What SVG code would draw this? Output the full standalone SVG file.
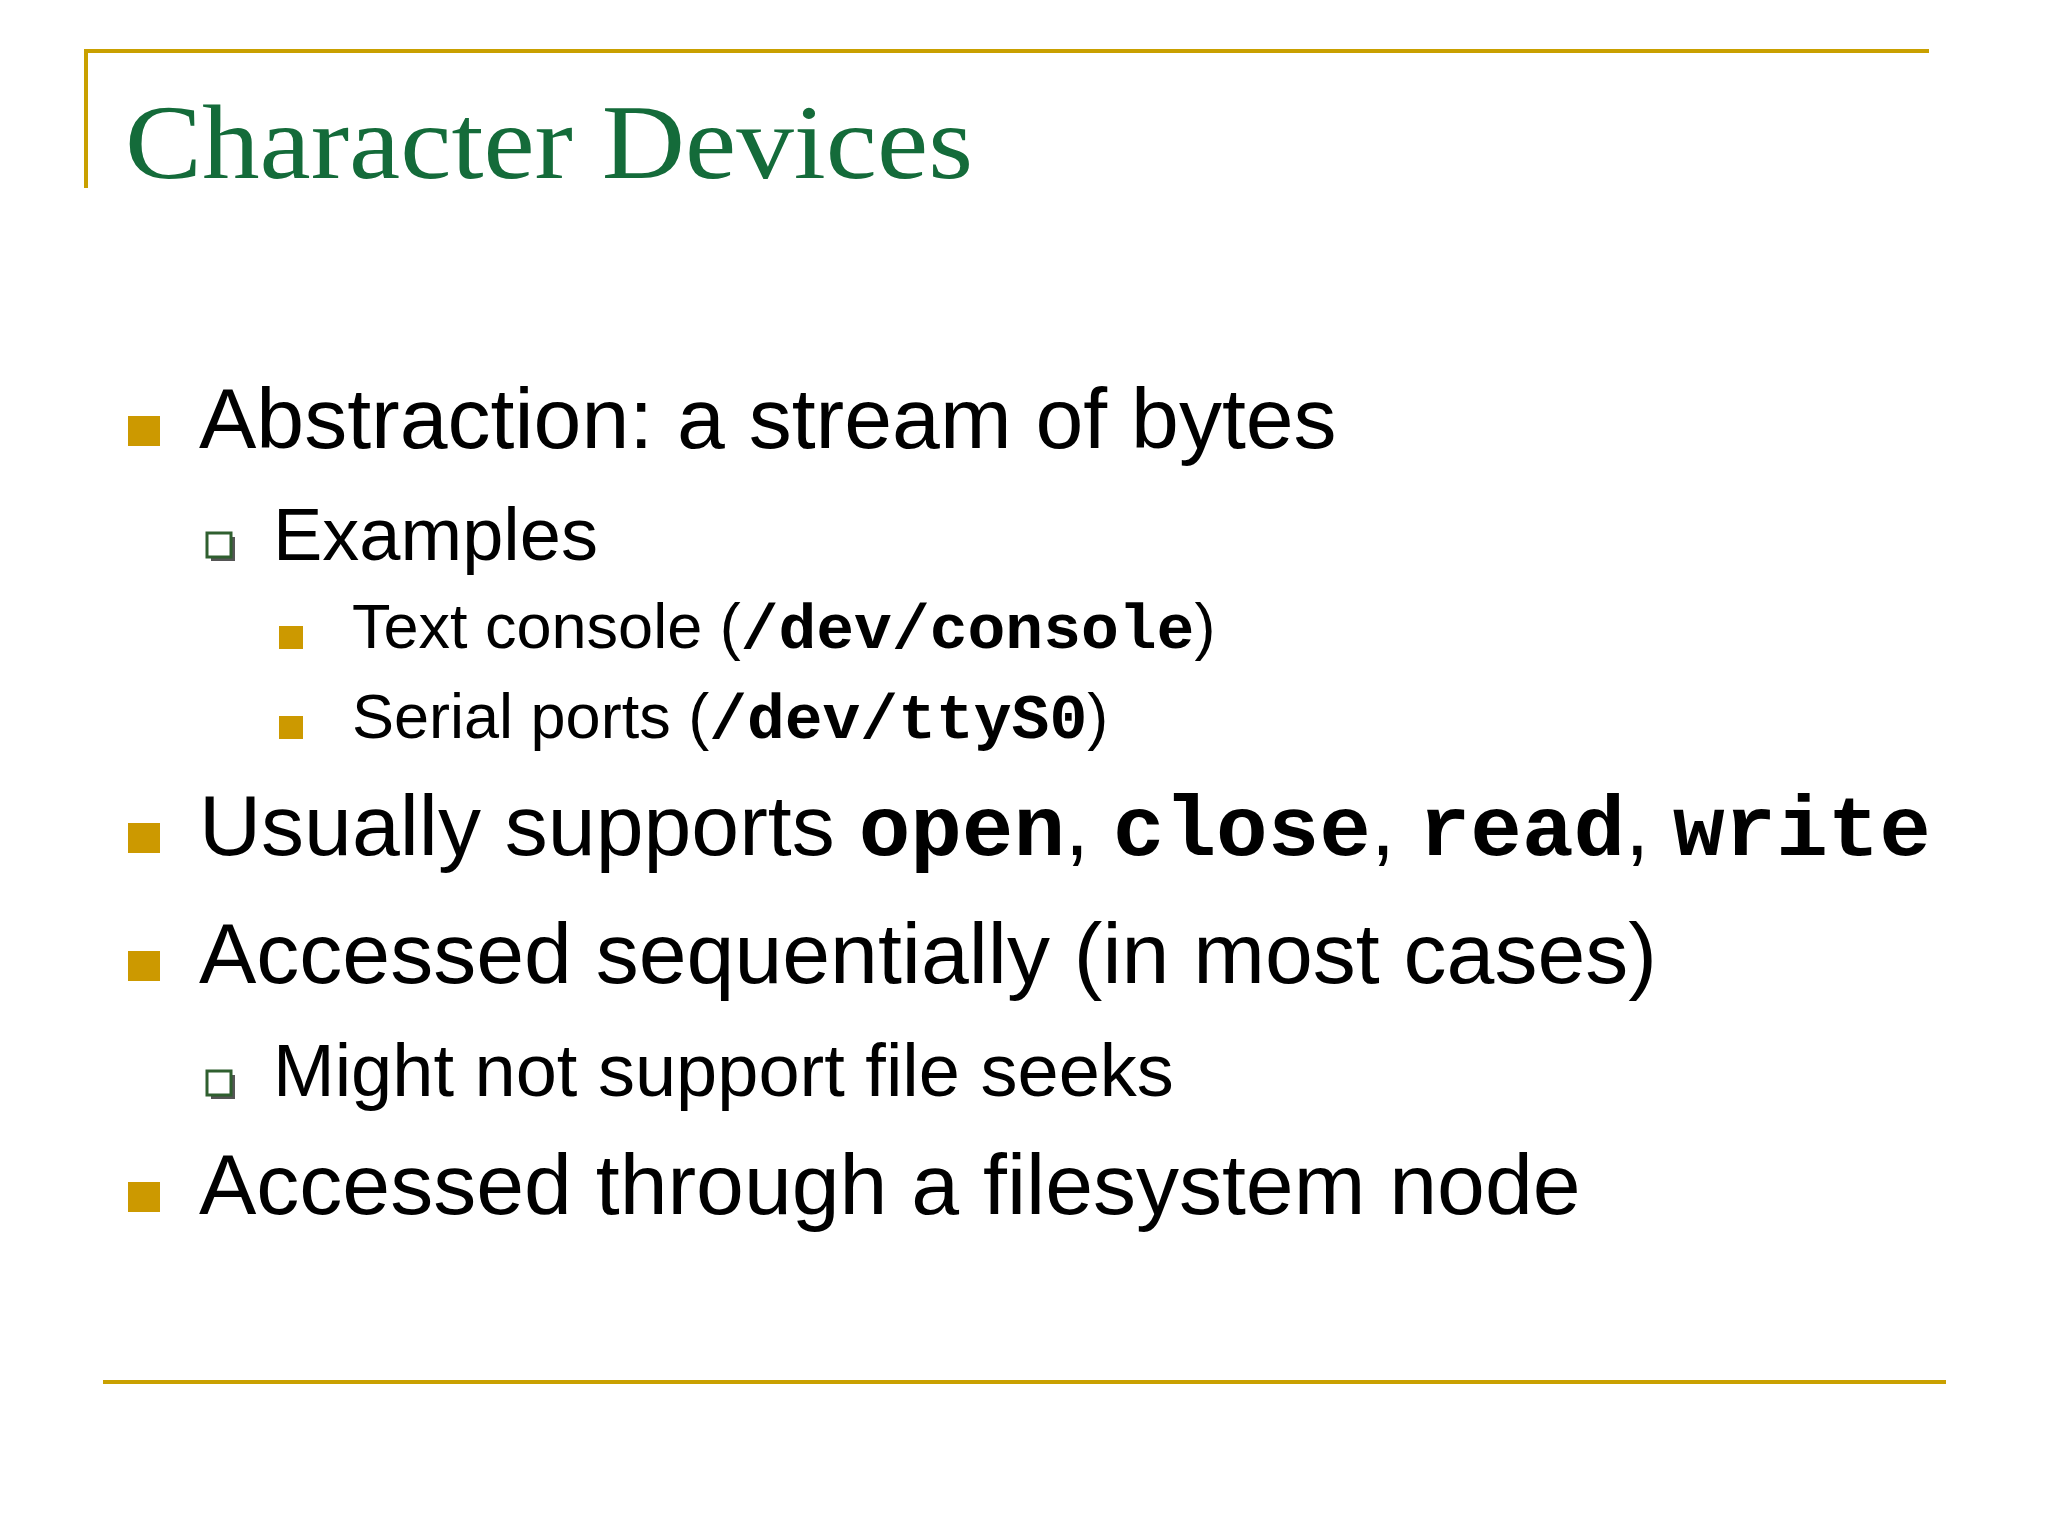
<svg xmlns="http://www.w3.org/2000/svg" width="2048" height="1536" viewBox="0 0 2048 1536">
<style>
.t{font-family:"Liberation Sans",Arial,sans-serif;fill:#000}
.m{font-family:"Liberation Mono","Courier New",monospace;font-weight:bold}
.b{fill:#cc9900}
.h{fill:#fff;stroke:#2f5f2f;stroke-width:3}
.ln{stroke:#c9a000;stroke-width:4}
</style>
<rect width="2048" height="1536" fill="#fff"/>
<g id="frame">
<line class="ln" x1="84" y1="51" x2="1929" y2="51"/>
<line class="ln" x1="86" y1="51" x2="86" y2="188"/>
<line class="ln" x1="103" y1="1382" x2="1946" y2="1382"/>
</g>
<text id="title" x="125" y="178" font-family="'Liberation Serif',Garamond,serif" font-size="106" fill="#146b3a" textLength="848" lengthAdjust="spacingAndGlyphs">Character Devices</text>
<g id="b1"><rect class="b" x="128" y="416" width="32" height="30"/><text class="t" x="199" y="448" font-size="86">Abstraction: a stream of bytes</text></g>
<g id="b1a"><rect x="211" y="537" width="24" height="24" fill="#555"/><rect class="h" x="207" y="533" width="24" height="24"/><text class="t" x="273" y="560" font-size="74">Examples</text></g>
<g id="b1a1"><rect class="b" x="279" y="626" width="24" height="23"/><text class="t" x="352" y="648" font-size="63">Text console (<tspan class="m">/dev/console</tspan>)</text></g>
<g id="b1a2"><rect class="b" x="279" y="716" width="24" height="23"/><text class="t" x="352" y="738" font-size="63">Serial ports (<tspan class="m">/dev/ttyS0</tspan>)</text></g>
<g id="b2"><rect class="b" x="128" y="823" width="32" height="30"/><text class="t" x="199" y="855" font-size="86">Usually supports <tspan class="m">open</tspan>, <tspan class="m">close</tspan>, <tspan class="m">read</tspan>, <tspan class="m">write</tspan></text></g>
<g id="b3"><rect class="b" x="128" y="951" width="32" height="30"/><text class="t" x="199" y="983" font-size="86">Accessed sequentially (in most cases)</text></g>
<g id="b3a"><rect x="211" y="1075" width="24" height="24" fill="#555"/><rect class="h" x="207" y="1071" width="24" height="24"/><text class="t" x="273" y="1096" font-size="74">Might not support file seeks</text></g>
<g id="b4"><rect class="b" x="128" y="1182" width="32" height="30"/><text class="t" x="199" y="1214" font-size="86">Accessed through a filesystem node</text></g>
</svg>
